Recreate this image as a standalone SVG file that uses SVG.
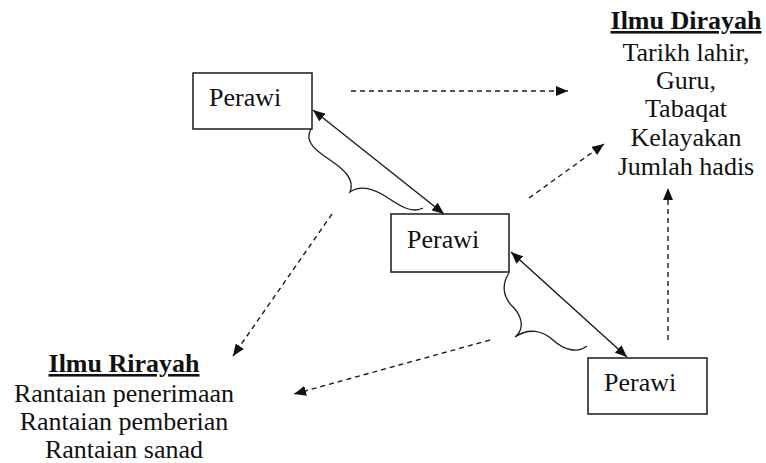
<svg xmlns="http://www.w3.org/2000/svg" width="766" height="463" viewBox="0 0 766 463">
<style>
.box{fill:#fff;stroke:#1a1a1a;stroke-width:1.5}
.t{font-family:'Liberation Serif',serif;font-size:26px;fill:#111}
.h{font-weight:bold;text-decoration:underline}
.solid{fill:none;stroke:#1a1a1a;stroke-width:1.4}
.dash{fill:none;stroke:#1a1a1a;stroke-width:1.4;stroke-dasharray:5 4}
.brace{fill:none;stroke:#1a1a1a;stroke-width:1.3}
</style>
<defs>
<marker id="ah" viewBox="0 0 12 10" refX="12" refY="5" markerWidth="12" markerHeight="10" markerUnits="userSpaceOnUse" orient="auto-start-reverse">
<path d="M0,0 L12,5 L0,10 z" fill="#111"/>
</marker>
</defs>
<rect width="766" height="463" fill="#fff"/>
<g id="connectors">
<line class="solid" x1="313" y1="110" x2="444" y2="214" marker-start="url(#ah)" marker-end="url(#ah)"/>
<line class="solid" x1="511" y1="252" x2="627" y2="357" marker-start="url(#ah)" marker-end="url(#ah)"/>
<path class="brace" d="M311,129 C303,142 318,152 330,160 C345,170 355,180 350,192 C360,185 372,188 385,196 C400,206 412,214 423,208"/>
<path class="brace" d="M509,273 C501,285 503,298 514,308 C523,318 524,330 515,337 C528,328 542,330 553,340 C565,351 578,353 587,346"/>
<line class="dash" x1="351" y1="91" x2="568" y2="91" marker-end="url(#ah)"/>
<line class="dash" x1="529" y1="198" x2="604" y2="144" marker-end="url(#ah)"/>
<line class="dash" x1="668" y1="340" x2="668" y2="188" marker-end="url(#ah)"/>
<line class="dash" x1="332" y1="214" x2="233" y2="356" marker-end="url(#ah)"/>
<line class="dash" x1="490" y1="340" x2="294" y2="394" marker-end="url(#ah)"/>
</g>
<g id="perawi1">
<rect class="box" x="193" y="73" width="119" height="56"/>
<text class="t" x="209" y="106" font-family="Liberation Serif">Perawi</text>
</g>
<g id="perawi2">
<rect class="box" x="391" y="214" width="118" height="58"/>
<text class="t" x="407" y="248" font-family="Liberation Serif">Perawi</text>
</g>
<g id="perawi3">
<rect class="box" x="588" y="358" width="119" height="56"/>
<text class="t" x="604" y="391" font-family="Liberation Serif">Perawi</text>
</g>
<g id="ilmu-dirayah" text-anchor="middle" font-family="Liberation Serif">
<text class="t h" x="686" y="29">Ilmu Dirayah</text>
<text class="t" x="686" y="61">Tarikh lahir,</text>
<text class="t" x="686" y="89">Guru,</text>
<text class="t" x="686" y="117">Tabaqat</text>
<text class="t" x="686" y="146">Kelayakan</text>
<text class="t" x="686" y="175">Jumlah hadis</text>
</g>
<g id="ilmu-rirayah" text-anchor="middle" font-family="Liberation Serif">
<text class="t h" x="124" y="372">Ilmu Rirayah</text>
<text class="t" x="124" y="402">Rantaian penerimaan</text>
<text class="t" x="124" y="430">Rantaian pemberian</text>
<text class="t" x="124" y="458">Rantaian sanad</text>
</g>
</svg>
